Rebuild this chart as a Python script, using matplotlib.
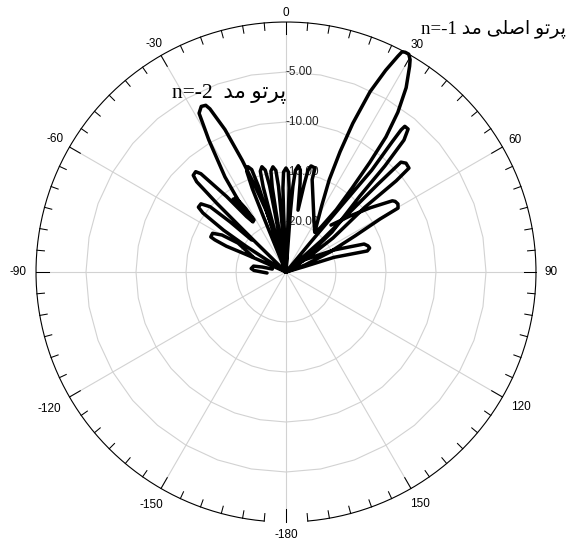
import numpy as np
import matplotlib.pyplot as plt

# radiation pattern, angle in degrees (0 = top, clockwise) and level in dB
# nan breaks the trace where a lobe ends on its own
pattern_theta = [
    -77.9, -78.2, -79.7, -84.3, -87.3, -93.0, np.nan,
    -66.0, -66.0, -66.3, -66.6, -65.7, -65.0, -62.2, -60.0, -58.9, -65.6, np.nan,
    -57.7, -57.7, -57.2, -56.2, -54.6, -53.5, -51.3, -49.3, -48.1, -47.0, np.nan,
    -50.0, -45.6, -45.4, -45.2, -44.7, -43.8, -42.0, -40.9, -38.2, -35.4, -33.4,
    -34.5, -36.0, -34.0, -32.4, -31.6,
    -33.9, -32.7, -30.3, -28.7, -27.1, -25.7, -25.0, -23.2, -21.4, -19.8, -17.9, -15.7, -15.0,
    -22.2, -22.0, -21.3, -19.9, -18.5, -17.8, -17.6, -17.0,
    -15.2, -15.0, -14.3, -12.9, -11.5, -10.8, -10.6, -10.0,
    -9.4, -9.2, -8.5, -7.1, -5.7, -5.0, -4.8, -4.0,
    -2.3, -2.1, -1.4, 0.0, 1.4, 2.1, 2.3, 3.0,
    4.2, 4.6, 5.3, 6.6, 8.0, 9.0, 11.0,
    11.7, 12.2, 13.3, 15.6, 15.8, 20.6, 28.3, 35.9,
    28.2, 25.1, 24.2, 24.2, 25.0, 26.3, 27.4, 27.8, 28.5, 29.4, 30.3,
    31.0, 33.1, 35.0, 36.5, 37.4, 38.2, 38.9, 38.0, 36.9, np.nan,
    39.0, 39.6, 39.9, 40.1, 39.2, 39.0, 39.2, 40.5, 41.8, 43.0, 44.2, 49.0, 53.6, 54.0,
    48.4, 46.8, 46.3, 46.3, 46.3, 47.8, 49.8, 50.4, 50.6, 54.1, 56.3, 56.0,
    69.8, 65.6, 62.4, 60.6, 60.3, 58.7, 57.1, 56.2, 52.7, 48.8, 43.8, np.nan,
    56.0, 56.3, 65.4, 70.3, 72.3, 74.0, 75.5, 73.0, 73.6, 75.0,
]
pattern_db = [
    -23.6, -22.6, -21.7, -21.5, -21.8, -23.1, np.nan,
    -25.0, -23.0, -20.5, -18.5, -17.2, -16.7, -16.7, -17.6, -19.4, -21.4, np.nan,
    -25.0, -22.8, -20.3, -17.5, -14.8, -14.1, -14.1, -15.0, -17.5, -20.3, np.nan,
    -25.0, -20.9, -18.5, -15.2, -12.3, -11.6, -11.5, -12.0, -15.4, -18.2, -19.0,
    -16.9, -16.0, -16.1, -17.5, -18.9,
    -16.9, -13.7, -9.7, -6.9, -6.4, -6.5, -7.0, -9.5, -13.0, -15.9, -18.5, -21.7, -25.0,
    -19.0, -16.0, -14.2, -13.8, -14.2, -16.0, -19.0, -25.0,
    -19.0, -16.2, -14.6, -14.2, -14.6, -16.2, -19.0, -25.0,
    -19.0, -16.4, -14.8, -14.4, -14.8, -16.4, -19.0, -25.0,
    -19.0, -16.6, -15.0, -14.6, -15.0, -16.6, -19.0, -25.0,
    -19.0, -16.4, -14.8, -14.3, -14.7, -16.0, -18.7,
    -16.1, -14.6, -14.1, -14.2, -15.4, -17.3, -19.1, -20.1,
    -17.4, -14.8, -11.8, -8.7, -5.1, -2.5, -0.7, -0.1, 0.0, 0.0, -0.4,
    -1.0, -3.0, -5.5, -8.2, -11.2, -14.3, -17.0, -19.2, -20.0, np.nan,
    -25.0, -21.2, -16.3, -11.7, -8.2, -6.7, -6.2, -6.2, -7.3, -10.5, -14.4, -18.9, -22.6, -25.0,
    -20.2, -15.9, -12.3, -9.7, -9.1, -8.8, -8.9, -10.7, -14.8, -19.2, -22.1, -25.0,
    -23.0, -20.2, -17.2, -14.2, -12.1, -11.9, -12.0, -12.2, -14.4, -16.5, -18.5, np.nan,
    -25.0, -22.8, -19.7, -16.7, -16.4, -16.3, -16.6, -20.0, -23.1, -25.0,
]

theta_ticks = [0, 30, 60, 90, 120, 150, 180, -150, -120, -90, -60, -30]
theta_labels = ["0", "30", "60", "90", "120", "150", "-180",
                "-150", "-120", "-90", "-60", "-30"]
r_ticks = [-20, -15, -10, -5]
r_labels = ["-20.00", "-15.00", "-10.00", "-5.00"]
r_min, r_max = -25, 0

# persian labels, written in display order (presentation forms)
word_mode = "\uFEAA\uFEE3"                   # مد
word_main = "\uFBFD\uFEE0\uFEBB\uFE8D"       # اصلی
word_beam = "\uFEEE\uFE97\uFEAE\uFB58"       # پرتو
label_n1 = "n=-1 " + word_mode + " " + word_main + " " + word_beam
label_n2 = "n=-2  " + word_mode + " " + word_beam

W, H = 579, 545
fig = plt.figure(figsize=(W / 100, H / 100), dpi=100)
ax = fig.add_axes([36 / W, 23 / H, 500 / W, 500 / H], projection="polar")
ax.set_theta_zero_location("N")
ax.set_theta_direction(-1)
ax.set_ylim(r_min, r_max)
ax.set_xticks([])
ax.set_yticks([])
ax.grid(False)
ax.spines["polar"].set_visible(False)

grid_color = "#d2d2d2"
ring = np.deg2rad(np.arange(0, 361, 10))
for r in r_ticks:
    ax.plot(ring, np.full_like(ring, r), color=grid_color, lw=0.8, zorder=1)
for t in range(0, 360, 30):
    ax.plot([np.deg2rad(t)] * 2, [r_min, r_max], color=grid_color, lw=0.8, zorder=1)

# outer scale with its tick marks
arc = np.deg2rad(np.linspace(-175, 175, 351))
ax.plot(arc, np.full_like(arc, r_max), color="black", lw=0.8, clip_on=False, zorder=3)
for t in range(-175, 181, 5):
    length = 1.25 if t % 30 == 0 else 0.75
    ax.plot([np.deg2rad(t)] * 2, [r_max, r_max - length], color="black",
            lw=0.75, clip_on=False, zorder=3)

for t, lab in zip(theta_ticks, theta_labels):
    rad = np.deg2rad(t)
    rr = r_max + 0.9 + 0.3 * len(lab) * abs(np.sin(rad))
    if np.cos(rad) < -0.3:
        rr += 0.4
    ax.text(rad, rr, lab, ha="center", va="center", fontsize=8.5,
            family="Liberation Sans", clip_on=False)

for r, lab in zip(r_ticks, r_labels):
    ax.text(0, r, lab, ha="left", va="center", fontsize=8.5,
            family="Liberation Sans", color="#222222", zorder=2)

ax.plot(np.deg2rad(pattern_theta), pattern_db, color="black", lw=2.5,
        solid_joinstyle="round", solid_capstyle="round", clip_on=False, zorder=4)

fonts = ["Liberation Serif", "DejaVu Sans"]
fig.text(421 / W, 1 - 33 / H, label_n1, fontsize=13.6, family=fonts,
         ha="left", va="baseline")
fig.text(172 / W, 1 - 97 / H, label_n2, fontsize=15.5, family=fonts,
         ha="left", va="baseline")

fig.savefig("out.png", dpi=100)
